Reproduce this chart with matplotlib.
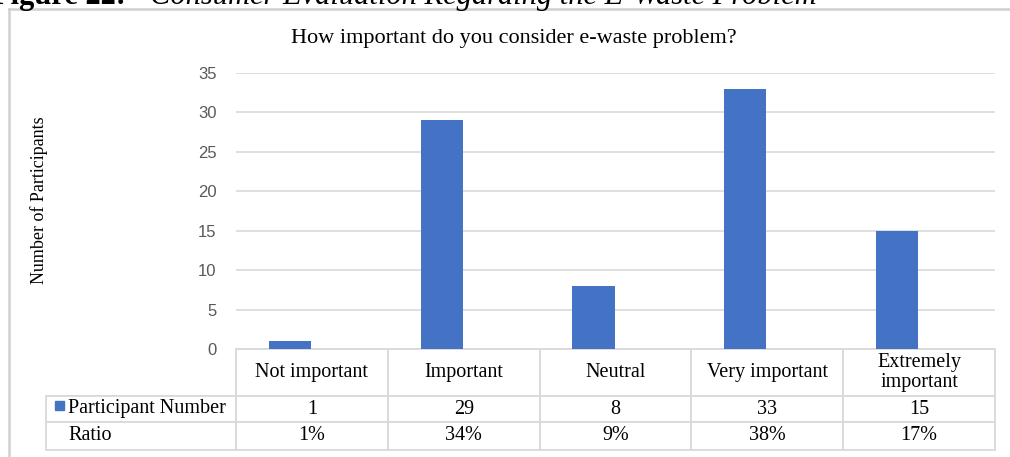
import matplotlib.pyplot as plt
from matplotlib.lines import Line2D
from matplotlib.patches import Rectangle

categories = ["Not important", "Important", "Neutral", "Very important", "Extremely\nimportant"]
participants = [1, 29, 8, 33, 15]
ratio = ["1%", "34%", "9%", "38%", "17%"]
series_name = "Participant Number"
ratio_name = "Ratio"

blue = "#4472C4"
grid = "#d9d9d9"
serif = ["Liberation Serif", "DejaVu Serif"]

fig = plt.figure(figsize=(10.10, 4.57), dpi=100)
W, H = 1010, 457
# axes placed in pixel terms
ax = fig.add_axes([236 / W, 1 - 349 / H, 759 / W, 276 / H])

# first series of an Excel cluster: bar sits left of the category centre
x = [i - 0.145 for i in range(len(categories))]
ax.bar(x, participants, width=0.277, color=blue, zorder=3)
ax.set_xlim(-0.5, len(categories) - 0.5)
ax.set_ylim(0, 35)
ax.set_yticks(range(0, 36, 5))
ax.yaxis.grid(True, color=grid, lw=1.2, zorder=0)
ax.set_xticks([])
for s in ax.spines.values():
    s.set_visible(False)
ax.tick_params(axis="y", length=0, pad=14, labelsize=12, labelcolor="#595959")
for lab in ax.get_yticklabels():
    lab.set_fontfamily("Liberation Sans")

ax.set_ylabel("Number of Participants", family=serif, fontsize=13)
ax.yaxis.set_label_coords(-0.248, 0.54)

fig.text(514 / W, 1 - 38 / H, "How important do you consider e-waste problem?",
         family=serif, fontsize=16, ha="center", va="center")

# data table below the bars
cells = [[""] + categories,
         [series_name] + [str(v) for v in participants],
         [ratio_name] + ratio]
tab = ax.table(cellText=cells, bbox=[-190 / 759, -101 / 276, 949 / 759, 101 / 276])
tab.auto_set_font_size(False)
heights = [47, 26, 28]
for (r, c), cell in tab.get_celld().items():
    cell.set_height(heights[r])
    cell.set_width(190 if c == 0 else 151.8)
    cell.set_edgecolor(grid)
    cell.set_linewidth(1.3)
    t = cell.get_text()
    t.set_fontfamily(serif)
    t.set_fontsize(14.5)
    t.set_linespacing(1.12)
    if c == 0:
        cell._loc = "left"
        t.set_ha("left")
        cell.PAD = 0.116
        if r == 0:
            cell.visible_edges = "BR"
    else:
        t.set_ha("center")

# legend key square in the table
ax.add_patch(Rectangle((-181 / 759, -61 / 276), 9 / 759, 9 / 276, color=blue,
                       transform=ax.transAxes, clip_on=False))

# outer chart border (top and left edges visible in the crop)
fig.add_artist(Line2D([9 / W, 1], [1 - 9 / H, 1 - 9 / H], color="#d0d0d0", lw=1.8))
fig.add_artist(Line2D([9 / W, 9 / W], [0, 1 - 9 / H], color="#d0d0d0", lw=1.8))

# clipped caption at the very top
fig.text(-8 / W, 1 - 4 / H, "Figure 22:", family=serif, fontsize=22,
         weight="bold", va="baseline")
fig.text(150 / W, 1 - 4 / H, "Consumer Evaluation Regarding the E-Waste Problem",
         family=serif, fontsize=22, style="italic", va="baseline")

fig.savefig("out.png", dpi=100)
